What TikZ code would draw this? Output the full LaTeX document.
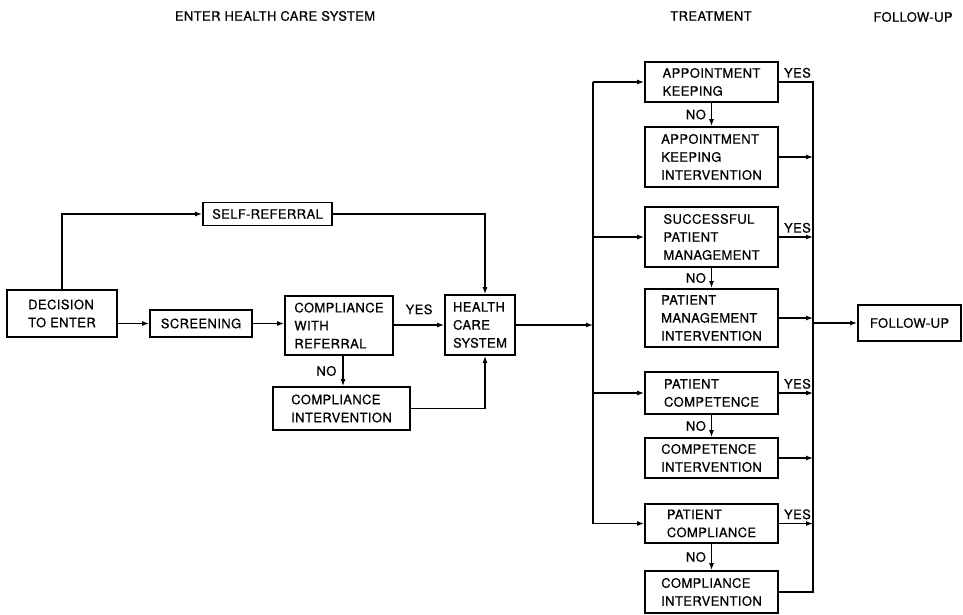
\documentclass[tikz,border=0pt]{standalone}
\usepackage{fontspec}
\setmainfont{TeX Gyre Heros}[LetterSpace=3,FakeBold=0.6]
\usetikzlibrary{arrows.meta}
\begin{document}
\begin{tikzpicture}[x=1pt,y=-1pt,
  box/.style={draw, line width=1.7pt, align=left, inner sep=0pt, font=\fontsize{13}{18}\selectfont},
  lbl/.style={font=\fontsize{13}{15}\selectfont, inner sep=0pt},
  hdr/.style={font=\fontsize{13}{15}\selectfont, inner sep=0pt},
  conn/.style={line width=1.3pt},
  arr/.style={line width=1.3pt, -{Latex[length=7pt,width=5pt]}}]
\useasboundingbox (0,0) rectangle (963,615);
% headers
\node[hdr] (h1) at (275,16) {ENTER HEALTH CARE SYSTEM};
\node[hdr] (h2) at (711,16) {TREATMENT};
\node[hdr] (h3) at (913,17) {FOLLOW-UP};
% left part
\node[box, minimum width=110, minimum height=47] (dec) at (62,313.5) {DECISION\\TO ENTER};
\node[box, minimum width=102, minimum height=27] (scr) at (201,323.5) {SCREENING};
\node[box, minimum width=108, minimum height=59] (cwr) at (339,325.5) {COMPLIANCE\\WITH\\REFERRAL};
\node[box, minimum width=129, minimum height=23] (self) at (267.5,214) {SELF-REFERRAL};
\node[box, minimum width=70, minimum height=60] (hcs) at (480,325) {HEALTH\\CARE\\SYSTEM};
\node[box, minimum width=137, minimum height=43] (ci1) at (341.5,408.5) {COMPLIANCE\\INTERVENTION};
% right column
\node[box, minimum width=133, minimum height=40] (ak) at (711.5,82) {APPOINTMENT\\KEEPING};
\node[box, minimum width=133, minimum height=60] (aki) at (711.5,157) {APPOINTMENT\\KEEPING\\INTERVENTION};
\node[box, minimum width=133, minimum height=60] (spm) at (711.5,237) {SUCCESSFUL\\PATIENT\\MANAGEMENT};
\node[box, minimum width=133, minimum height=58] (pmi) at (711.5,318) {PATIENT\\MANAGEMENT\\INTERVENTION};
\node[box, minimum width=133, minimum height=42] (pc) at (711.5,393) {PATIENT\\COMPETENCE};
\node[box, minimum width=133, minimum height=40] (ci2) at (711.5,458) {COMPETENCE\\INTERVENTION};
\node[box, minimum width=133, minimum height=39] (pcm) at (711.5,523.5) {PATIENT\\COMPLIANCE};
\node[box, minimum width=133, minimum height=42] (ci3) at (711.5,592) {COMPLIANCE\\INTERVENTION};
\node[box, minimum width=103, minimum height=36] (fu) at (909.5,323) {FOLLOW-UP};
% trunk and merge coordinates
\coordinate (ttop) at (593,82);
\coordinate (tbot) at (593,523.5);
\coordinate (mtop) at (813,82);
\coordinate (mbot) at (813,592);
% left connectors
\draw[arr] (dec.east |- scr.west) -- (scr.west);
\draw[arr] (scr.east) -- (scr.east -| cwr.west);
\draw[arr] (dec.north) |- (self.west);
\draw[arr] (self.east) -| ([xshift=5]hcs.north);
\draw[arr] (cwr.east |- hcs.west) -- node[lbl, above=10pt] (yes0) {YES} (hcs.west);
\draw[arr] ([xshift=4]cwr.south) -- node[lbl, left=6pt] (no0) {NO} ([xshift=4]cwr.south |- ci1.north);
\draw[arr] (ci1.east) -| ([xshift=5]hcs.south);
% trunk
\draw[arr] (hcs.east) -- (hcs.east -| ttop);
\draw[conn] (ttop) -- (tbot);
\draw[arr] (ttop) -- (ak.west);
\draw[arr] (spm.west -| ttop) -- (spm.west);
\draw[arr] (pc.west -| ttop) -- (pc.west);
\draw[arr] (tbot) -- (pcm.west);
% NO arrows
\draw[arr] (ak.south) -- node[lbl, left=5pt] (no1) {NO} (aki.north);
\draw[arr] (spm.south) -- node[lbl, left=5pt] (no2) {NO} (pmi.north);
\draw[arr] (pc.south) -- node[lbl, left=5pt] (no3) {NO} (ci2.north);
\draw[arr] (pcm.south) -- node[lbl, left=5pt] (no4) {NO} (ci3.north);
% merge line
\draw[conn] (ak.east) -- (mtop) -- (mbot) -- (ci3.east);
\node[lbl, anchor=south west] (yes1) at ([xshift=5pt,yshift=4pt]ak.east) {YES};
\draw[arr] (aki.east) -- (aki.east -| mtop);
\draw[arr] (spm.east) -- (spm.east -| mtop);
\node[lbl, anchor=south west] (yes2) at ([xshift=5pt,yshift=4pt]spm.east) {YES};
\draw[arr] (pmi.east) -- (pmi.east -| mtop);
\draw[arr] (pc.east) -- (pc.east -| mtop);
\node[lbl, anchor=south west] (yes3) at ([xshift=5pt,yshift=4pt]pc.east) {YES};
\draw[arr] (ci2.east) -- (ci2.east -| mtop);
\draw[arr] (pcm.east) -- (pcm.east -| mtop);
\node[lbl, anchor=south west] (yes4) at ([xshift=5pt,yshift=4pt]pcm.east) {YES};
\draw[arr] (fu.west -| mtop) -- (fu.west);
\end{tikzpicture}
\end{document}
